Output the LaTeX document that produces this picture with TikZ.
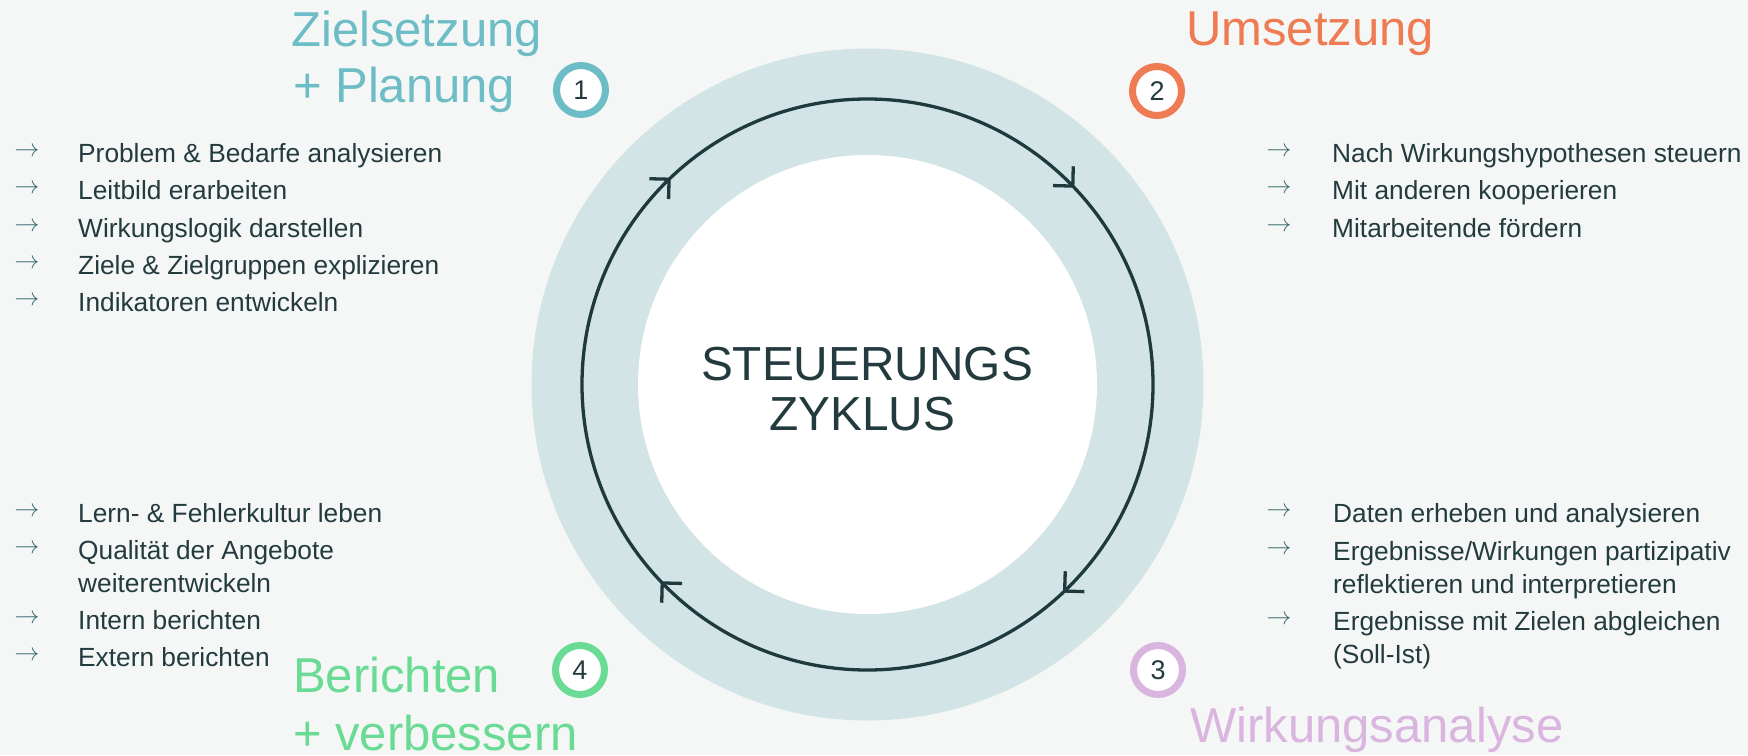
\documentclass[tikz,border=0pt]{standalone}
\usepackage{fontspec}
\setmainfont{Liberation Sans}
\usetikzlibrary{arrows.meta,decorations.markings}
\definecolor{bg}{HTML}{F5F7F6}
\definecolor{ringc}{HTML}{D2E4E6}
\definecolor{dark}{HTML}{1F3A3D}
\definecolor{txt}{HTML}{233B3E}
\definecolor{arr}{HTML}{3F6F72}
\definecolor{cteal}{HTML}{6DBDC7}
\definecolor{corange}{HTML}{EE7B52}
\definecolor{clilac}{HTML}{D9B5DF}
\definecolor{cgreen}{HTML}{6ADB95}
\begin{document}
\begin{tikzpicture}[x=1pt,y=-1pt,
  item/.style={anchor=base west, inner sep=0pt, font=\fontsize{26.3}{33}\selectfont, text=txt},
  bul/.style={inner sep=0pt, text=arr, font=\fontsize{23}{23}\selectfont},
  title/.style={anchor=base west, inner sep=0pt, font=\fontsize{49}{57}\selectfont},
  num/.style={circle, draw, line width=7pt, fill=white, minimum size=49pt, inner sep=0pt, font=\fontsize{27}{27}\selectfont, text=txt},
  cyc/.style={draw=dark, line width=3.3pt},
  tip/.style={decoration={markings,
     mark=at position 0.13 with {\arrow{Straight Barb[length=14pt,width=28pt]}},
     mark=at position 0.379 with {\arrow{Straight Barb[length=14pt,width=28pt]}},
     mark=at position 0.629 with {\arrow{Straight Barb[length=14pt,width=28pt]}},
     mark=at position 0.879 with {\arrow{Straight Barb[length=14pt,width=28pt]}}},
     postaction={decorate}}
]
\fill[bg] (0,0) rectangle (1748,755);
\useasboundingbox (0,0) rectangle (1748,755);

% ring
\coordinate (c) at (867.5,384.5);
\fill[ringc] (c) circle (336);
\fill[white] (c) circle (229.5);
\draw[cyc, tip] (c) circle (285.5);

% center text
\node[anchor=base, inner sep=0pt, font=\fontsize{47.8}{50}\selectfont, text=txt] (cen1) at (867,380) {STEUERUNGS};
\node[anchor=base, inner sep=0pt, font=\fontsize{47.8}{50}\selectfont, text=txt] (cen2) at (862,430) {ZYKLUS};

% titles
\node[title, text=cteal] (t1a) at (291,46) {Zielsetzung};
\node[title, text=cteal] (t1b) at (293,102) {+ Planung};
\node[title, text=corange] (t2) at (1186,45) {Umsetzung};
\node[title, text=cgreen] (t4a) at (293,692) {Berichten};
\node[title, text=cgreen] (t4b) at (293,750) {+ verbessern};
\node[title, text=clilac] (t3) at (1190,742) {Wirkungsanalyse};

% number circles
\node[num, draw=cteal] (n1) at (581,90) {1};
\node[num, draw=corange] (n2) at (1157,91) {2};
\node[num, draw=clilac] (n3) at (1158,670) {3};
\node[num, draw=cgreen] (n4) at (580,670) {4};

% list 1
\node[bul] (b11) at (27,152) {$\rightarrow$};
\node[item] (i11) at (78,162) {Problem \& Bedarfe analysieren};
\node[bul] (b12) at (27,189) {$\rightarrow$};
\node[item] (i12) at (78,199) {Leitbild erarbeiten};
\node[bul] (b13) at (27,227) {$\rightarrow$};
\node[item] (i13) at (78,237) {Wirkungslogik darstellen};
\node[bul] (b14) at (27,264) {$\rightarrow$};
\node[item] (i14) at (78,274) {Ziele \& Zielgruppen explizieren};
\node[bul] (b15) at (27,301) {$\rightarrow$};
\node[item] (i15) at (78,311) {Indikatoren entwickeln};

% list 2
\node[bul] (b21) at (1279,152) {$\rightarrow$};
\node[item] (i21) at (1332,162) {Nach Wirkungshypothesen steuern};
\node[bul] (b22) at (1279,189) {$\rightarrow$};
\node[item] (i22) at (1332,199) {Mit anderen kooperieren};
\node[bul] (b23) at (1279,227) {$\rightarrow$};
\node[item] (i23) at (1332,237) {Mitarbeitende fördern};

% list 4
\node[bul] (b41) at (27,512) {$\rightarrow$};
\node[item] (i41) at (78,522) {Lern- \& Fehlerkultur leben};
\node[bul] (b42) at (27,549) {$\rightarrow$};
\node[item] (i42) at (78,559) {Qualität der Angebote};
\node[item] (i42b) at (78,592) {weiterentwickeln};
\node[bul] (b43) at (27,619) {$\rightarrow$};
\node[item] (i43) at (78,629) {Intern berichten};
\node[bul] (b44) at (27,656) {$\rightarrow$};
\node[item] (i44) at (78,666) {Extern berichten};

% list 3
\node[bul] (b31) at (1279,512) {$\rightarrow$};
\node[item] (i31) at (1333,522) {Daten erheben und analysieren};
\node[bul] (b32) at (1279,550) {$\rightarrow$};
\node[item] (i32) at (1333,560) {Ergebnisse/Wirkungen partizipativ};
\node[item] (i32b) at (1333,593) {reflektieren und interpretieren};
\node[bul] (b33) at (1279,620) {$\rightarrow$};
\node[item] (i33) at (1333,630) {Ergebnisse mit Zielen abgleichen};
\node[item] (i33b) at (1333,663) {(Soll-Ist)};
\end{tikzpicture}
\end{document}
